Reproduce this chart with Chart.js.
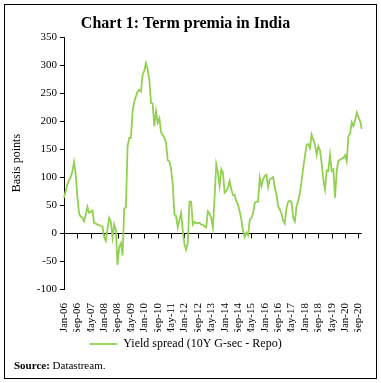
<!DOCTYPE html>
<html>
<head>
<meta charset="utf-8">
<script src="https://cdn.jsdelivr.net/npm/chart.js@4"></script>
<style>
  html, body { margin: 0; padding: 0; background: #fff; }
  #wrap { position: relative; width: 381px; height: 383px; }
  #frame { position: absolute; left: 4px; top: 4px; width: 371px; height: 373px; border: 1px solid #000; box-sizing: content-box; pointer-events: none; }
  #src { position: absolute; left: 14px; top: 359px; font: 11px "Liberation Serif", serif; color: #000; }
  canvas { position: absolute; left: 0; top: 0; }
</style>
</head>
<body>
<div id="wrap">
  <canvas id="c" width="381" height="383"></canvas>
  <div id="frame"></div>
  <div id="src"><b>Source:</b> Datastream.</div>
</div>
<script>
// ---- Data ----
const startYear = 2006;
const monthNames = ["Jan","Feb","Mar","Apr","May","Jun","Jul","Aug","Sep","Oct","Nov","Dec"];
const tickLabels = ["Jan-06","Sep-06","May-07","Jan-08","Sep-08","May-09","Jan-10","Sep-10","May-11",
  "Jan-12","Sep-12","May-13","Jan-14","Sep-14","May-15","Jan-16","Sep-16","May-17","Jan-18",
  "Sep-18","May-19","Jan-20","Sep-20"];
const tickEvery = 8;
const seriesName = "Yield spread (10Y G-sec - Repo)";
// Monthly yield spread, basis points, Jan-06 .. Nov-20
const yieldSpread = [
  63, 75, 87, 94, 100, 110, 127, 105, 65, 35, 29, 28,
  21, 33, 47, 36, 38, 40, 18, 17, 15, 14, 13, 12,
  -7, -14, 8, 27, 20, -8, 15, 5, -57, -25, -18, -40,
  44, 46, 155, 170, 170, 218, 235, 244, 253, 256, 253, 283,
  290, 304, 292, 274, 233, 231, 191, 218, 197, 205, 180, 175,
  170, 161, 130, 128, 114, 87, 33, 30, 10, 24, 36, 4,
  -20, -30, -17, 56, 56, 15, 20, 17, 18, 18, 15, 15,
  12, 10, 39, 35, 27, 10, 63, 123, 108, 84, 114, 108,
  72, 75, 81, 93, 78, 68, 68, 57, 51, 39, 24, 4,
  -7, 1, -4, 23, 27, 35, 54, 56, 56, 99, 84, 96,
  102, 104, 82, 96, 98, 100, 81, 69, 48, 42, 35, 22,
  17, 45, 56, 58, 55, 27, 21, 48, 57, 72, 93, 117,
  137, 158, 159, 152, 176, 167, 158, 140, 155, 148, 125, 95,
  78, 112, 111, 140, 111, 114, 63, 111, 129, 131, 133, 134,
  139, 128, 173, 178, 198, 191, 202, 215, 207, 200, 186
];
const months = yieldSpread.map((_, i) => monthNames[i % 12] + "-" + String((startYear + Math.floor(i / 12)) % 100).padStart(2, "0"));

const serif = "'Liberation Serif', 'Times New Roman', serif";

const zeroAxis = {
  id: "zeroAxis",
  beforeDatasetsDraw(chart) {
    const { ctx, chartArea, scales } = chart;
    const y0 = Math.round(scales.y.getPixelForValue(0)) + 0.5;
    ctx.save();
    ctx.strokeStyle = "#000";
    ctx.lineWidth = 1;
    ctx.beginPath();
    ctx.moveTo(chartArea.left, y0);
    ctx.lineTo(chartArea.right, y0);
    for (let i = 0; i < months.length; i += tickEvery) {
      const x = Math.round(scales.x.getPixelForValue(i)) + 0.5;
      ctx.moveTo(x, y0);
      ctx.lineTo(x, y0 + 5);
    }
    ctx.stroke();
    ctx.restore();
  }
};

new Chart(document.getElementById("c"), {
  type: "line",
  data: {
    labels: months,
    datasets: [{
      label: seriesName,
      data: yieldSpread,
      borderColor: "#92d050",
      backgroundColor: "#92d050",
      borderWidth: 1.8,
      pointRadius: 0,
      tension: 0,
      fill: false
    }]
  },
  options: {
    responsive: false,
    animation: false,
    devicePixelRatio: 1,
    layout: { padding: { left: 8, right: 18, top: 0, bottom: 23 } },
    plugins: {
      title: {
        display: true,
        text: "Chart 1: Term premia in India",
        color: "#000",
        font: { family: serif, size: 16, weight: "bold" },
        padding: { top: 14, bottom: 4 }
      },
      legend: {
        display: true,
        position: "bottom",
        labels: {
          color: "#000",
          font: { family: serif, size: 12 },
          usePointStyle: true,
          pointStyle: "line",
          pointStyleWidth: 28,
          boxWidth: 28,
          padding: 6
        }
      },
      tooltip: { enabled: false }
    },
    scales: {
      x: {
        type: "category",
        offset: false,
        grid: { display: false },
        border: { display: false },
        afterFit(scale) { scale.height = 43; },
        ticks: {
          autoSkip: false,
          minRotation: 90,
          maxRotation: 90,
          padding: 6,
          color: "#000",
          font: { family: serif, size: 11 },
          callback(val, idx) { return idx % tickEvery === 0 ? tickLabels[idx / tickEvery] : ""; }
        }
      },
      y: {
        min: -100,
        max: 350,
        afterFit(scale) { scale.width = 56; },
        border: { display: true, color: "#000", width: 1 },
        grid: { drawOnChartArea: false, drawTicks: true, tickLength: 4, color: "#000" },
        title: { display: true, text: "Basis points", color: "#000", font: { family: serif, size: 12 }, padding: { top: 2, bottom: 2 } },
        ticks: {
          stepSize: 50,
          padding: 3,
          color: "#000",
          font: { family: serif, size: 11 }
        }
      }
    }
  },
  plugins: [zeroAxis]
});
</script>
</body>
</html>
